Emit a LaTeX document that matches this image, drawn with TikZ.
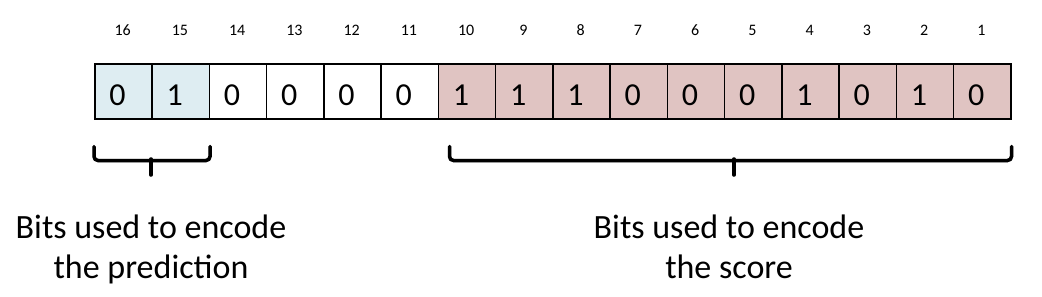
\documentclass[tikz,border=0pt]{standalone}
\usepackage{fontspec}
\setmainfont{Carlito}
\usetikzlibrary{positioning}
\definecolor{predblue}{RGB}{222,237,242}
\definecolor{scorered}{RGB}{224,196,194}
\begin{document}
\begin{tikzpicture}[
        x=1pt, y=-1pt,
        bitbox/.style={draw, line width=1.5pt, inner ysep=0pt, inner xsep=14.5pt,
            text width=28.25pt, align=left, text height=42pt, text depth=13pt,
            font=\fontsize{32}{38}\selectfont},
        bitnum/.style={anchor=base, font=\fontsize{16}{19}\selectfont},
        brace line/.style={line width=3.5pt, rounded corners=4pt, line cap=round},
        brace shadow/.style={brace line, black!35, opacity=0.6},
        caption/.style={align=center, font=\fontsize{34}{40}\selectfont, anchor=base}
    ]
    \useasboundingbox (0,0) rectangle (1042,297);
    % the 16 bits, highest first
    \foreach \i/\b/\c in {16/0/predblue, 15/1/predblue, 14/0/white, 13/0/white,
                          12/0/white, 11/0/white, 10/1/scorered, 9/1/scorered,
                          8/1/scorered, 7/0/scorered, 6/0/scorered, 5/0/scorered,
                          4/1/scorered, 3/0/scorered, 2/1/scorered, 1/0/scorered} {
        \node[bitbox, fill=\c, anchor=north west] (box\i) at ({94+57.25*(16-\i)},63) {\b};
        \node[bitnum] (num\i) at ({94+57.25*(16.5-\i)},35) {\i};
    }
    % braces, shadow first
    \coordinate (tipL) at (151,159);
    \coordinate (tipR) at (734,159);
    \foreach \s/\d in {brace shadow/1.5, brace line/0} {
        \begin{scope}[xshift=\d pt, yshift=-\d pt]
            \draw[\s] ([yshift=-27pt]box16.south west) -- ([yshift=-41pt]box16.south west)
                -- ([yshift=-41pt]box15.south east) -- ([yshift=-27pt]box15.south east);
            \draw[\s, rounded corners=0pt] (tipL) -- ++(0,16);
            \draw[\s] ([xshift=12pt,yshift=-27pt]box10.south west) -- ([xshift=12pt,yshift=-41pt]box10.south west)
                -- ([yshift=-41pt]box1.south east) -- ([yshift=-27pt]box1.south east);
            \draw[\s, rounded corners=0pt] (tipR) -- ++(0,16);
        \end{scope}
    }
    % captions
    \node[caption] (predtext) at (151,278) {Bits used to encode\\the prediction};
    \node[caption] (scoretext) at (729,278) {Bits used to encode\\the score};
\end{tikzpicture}
\end{document}
